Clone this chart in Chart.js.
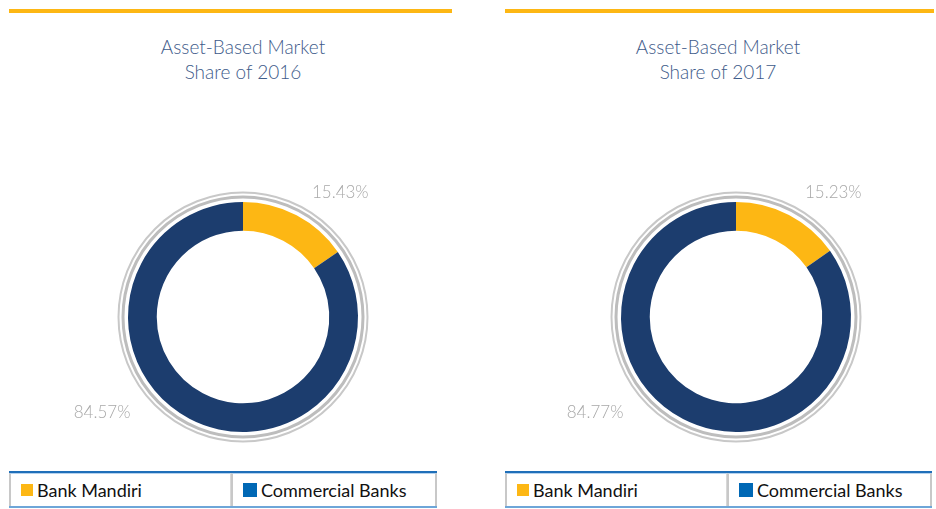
<!DOCTYPE html>
<html>
<head>
<meta charset="utf-8">
<script src="https://cdn.jsdelivr.net/npm/chart.js@4/dist/chart.umd.min.js"></script>
<style>
    body { margin: 0; width: 936px; height: 509px; background: #fff; position: relative; overflow: hidden; font-family: Lato, "Noto Sans", sans-serif; }
    .bar { position: absolute; top: 9px; height: 4px; background: #FDB714; }
    .title { position: absolute; top: 34px; width: 300px; text-align: center; color: #3E5B8A; font-size: 19px; line-height: 25px; font-weight: 300; }
    .chart-box { position: absolute; top: 20px; height: 440px; }
    .legend { position: absolute; top: 471px; height: 37px; box-sizing: border-box; border-top: 2px solid #1F6FB9; border-bottom: 2px solid #6EA6D8; display: flex; }
    .legend .cell { box-sizing: border-box; height: 100%; border-top: 1px solid #B5D2EE; display: flex; align-items: center; font-size: 18px; color: #111; }
    .legend .sw { display: inline-block; width: 12px; height: 12px; margin-right: 4px; }
</style>
</head>
<body>

<div class="bar" style="left:9px; width:443px;"></div>
<div class="bar" style="left:505px; width:429px;"></div>

<div class="title" style="left:93px;">Asset-Based Market<br>Share of 2016</div>
<div class="title" style="left:568px;">Asset-Based Market<br>Share of 2017</div>

<div class="chart-box" style="left:9px; width:443px;"><canvas id="chart2016"></canvas></div>
<div class="chart-box" style="left:505px; width:429px;"><canvas id="chart2017"></canvas></div>

<div class="legend" id="legend2016" style="left:9px; width:428px;"></div>
<div class="legend" id="legend2017" style="left:505px; width:427px;"></div>

<script>
var categories = ['Bank Mandiri', 'Commercial Banks'];
var share2016 = [15.43, 84.57];
var share2017 = [15.23, 84.77];
var sliceColors = ['#FDB714', '#1C3D6E'];
var legendColors = ['#FDB714', '#0068B5'];

// grey double circle round the ring
var ringOutline = {
    id: 'ringOutline',
    afterDatasetsDraw: function (chart) {
        var arc = chart.getDatasetMeta(0).data[0];
        var ctx = chart.ctx;
        ctx.save();
        ctx.strokeStyle = '#BDBDBD';
        ctx.lineWidth = 3;
        ctx.beginPath();
        ctx.arc(arc.x, arc.y, arc.outerRadius + 5, 0, Math.PI * 2);
        ctx.stroke();
        ctx.strokeStyle = '#C8C8C8';
        ctx.lineWidth = 2;
        ctx.beginPath();
        ctx.arc(arc.x, arc.y, arc.outerRadius + 9.5, 0, Math.PI * 2);
        ctx.stroke();
        ctx.restore();
    }
};

// percentage labels outside the ring
var sliceLabels = {
    id: 'sliceLabels',
    afterDraw: function (chart, args, opts) {
        var arc = chart.getDatasetMeta(0).data[0];
        var ctx = chart.ctx;
        var values = chart.data.datasets[0].data;
        ctx.save();
        ctx.font = '300 17px Lato, "Noto Sans", sans-serif';
        ctx.fillStyle = '#A8A8A8';
        ctx.textAlign = 'center';
        ctx.textBaseline = 'middle';
        for (var i = 0; i < values.length; i++) {
            var a = opts.angles[i] * Math.PI / 180;
            var d = opts.dist[i];
            ctx.fillText(values[i].toFixed(2) + '%', arc.x + d * Math.sin(a), arc.y - d * Math.cos(a));
        }
        ctx.restore();
    }
};

function makeDonut(id, values, padLeft, padRight) {
    var ctx = document.getElementById(id);
    return new Chart(ctx, {
        type: 'doughnut',
        data: {
            labels: categories,
            datasets: [{
                data: values,
                backgroundColor: sliceColors,
                borderWidth: 0,
                hoverOffset: 0
            }]
        },
        options: {
            responsive: true,
            maintainAspectRatio: false,
            animation: false,
            cutout: '75%',
            layout: { padding: { top: 182, bottom: 28, left: padLeft, right: padRight } },
            plugins: {
                legend: { display: false },
                tooltip: { enabled: false },
                sliceLabels: { angles: [38, 236], dist: [158, 170] }
            }
        },
        plugins: [ringOutline, sliceLabels]
    });
}

function makeLegend(id, widths) {
    var box = document.getElementById(id);
    for (var i = 0; i < categories.length; i++) {
        var cell = document.createElement('div');
        cell.className = 'cell';
        cell.style.width = widths[i] + 'px';
        cell.style.borderLeft = '2px solid #C8C8C8';
        cell.style.paddingLeft = '10px';
        if (i == categories.length - 1) cell.style.borderRight = '2px solid #C8C8C8';
        else cell.style.borderRight = '1px solid #D8D8D8';
        var sw = document.createElement('span');
        sw.className = 'sw';
        sw.style.background = legendColors[i];
        if (i == 1) { sw.style.width = '14px'; sw.style.height = '14px'; }
        cell.appendChild(sw);
        cell.appendChild(document.createTextNode(categories[i]));
        box.appendChild(cell);
    }
}

makeDonut('chart2016', share2016, 40, 15);
makeDonut('chart2017', share2017, 40, 7);
makeLegend('legend2016', [222, 206]);
makeLegend('legend2017', [222, 205]);
</script>
</body>
</html>
